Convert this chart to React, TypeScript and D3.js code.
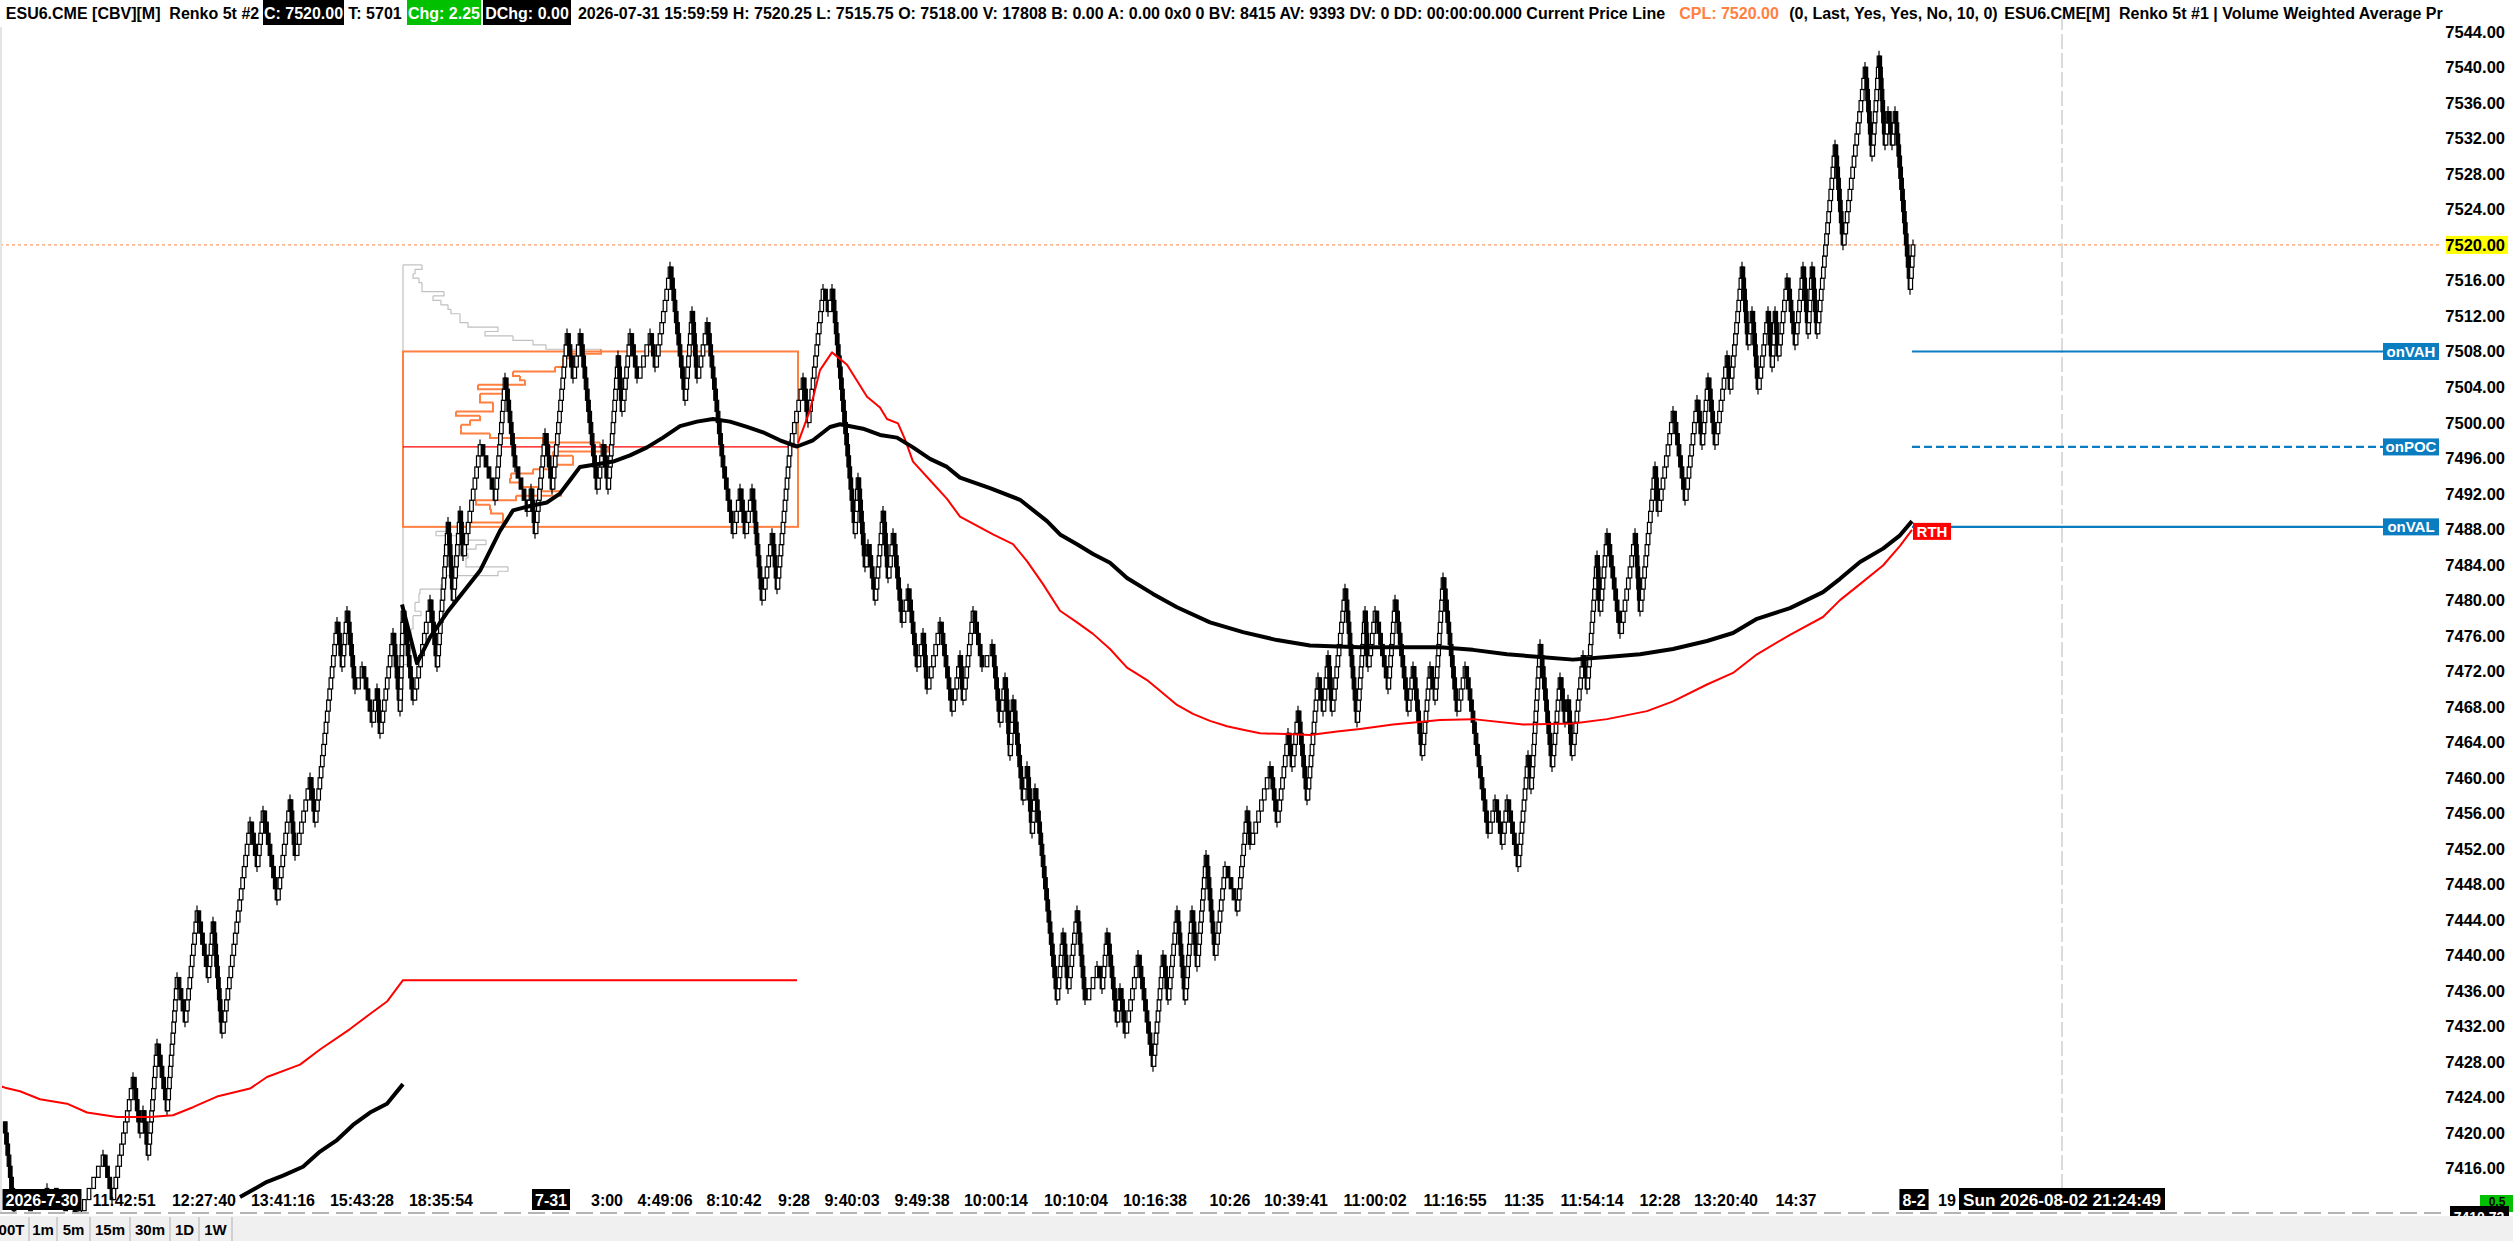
import * as d3 from "d3";
import { useEffect, useRef } from "react";

const W = 2513;
const H = 1241;
const FONT = "'Liberation Sans', Arial, sans-serif";

// price axis
const priceTicks = [
  7416, 7420, 7424, 7428, 7432, 7436, 7440, 7444, 7448, 7452, 7456, 7460, 7464, 7468, 7472,
  7476, 7480, 7484, 7488, 7492, 7496, 7500, 7504, 7508, 7512, 7516, 7520, 7524, 7528, 7532,
  7536, 7540, 7544,
];
const lastPrice = 7520;
const brickSize = 1.25;

// renko swing points: bar position / close price
const pivotBars = [
  1.6, 5.6, 18.8, 30, 41.2, 44.8, 53.2, 56, 57.2, 59.2, 62.8, 66.8, 70.8, 74, 78.8, 83.2, 85.2,
  88.8, 100, 102.8, 105.2, 110.8, 116, 118, 124, 126, 134.8, 136.8, 138.8, 142, 144.8, 148.8,
  150.8, 152, 157.2, 160, 161.2, 165.2, 172, 174.8, 179.2, 181.2, 184, 185.2, 192, 198, 202,
  206, 210.8, 212.4, 214, 218, 220.8, 226.8, 229.2, 232, 238.8, 241.2, 243.2, 247.2, 248.8, 252,
  254.8, 260, 262, 268, 274, 276.8, 278.8, 282.8, 289.2, 293.2, 296, 298, 300.8, 304.8, 308.8,
  310.8, 316, 321.2, 323.2, 329.2, 331.2, 332.8, 342, 343.2, 346, 347.2, 350, 353.2, 355.2,
  357.2, 360.8, 363.2, 366.8, 369.2, 370.8, 376, 380.8, 384, 385.2, 389.2, 392.8, 396.8, 400,
  402, 404, 405.2, 409.2, 410.8, 412.8, 414, 422.8, 425.2, 427.2, 430.8, 434, 438.8, 440.8,
  442.8, 446.8, 448, 450, 455.2, 461.2, 465.2, 467.2, 470.8, 474, 476.8, 478.8, 482.4, 486, 490,
  494.8, 498.8, 500, 508, 510.8, 515.2, 516.8, 519.2, 522.8, 527.2, 529.2, 531.2, 532.8, 538,
  542.8, 546, 547.2, 550, 555.2, 558, 563.2, 565.2, 568.8, 572, 574, 577.2, 582.8, 586, 588,
  595.2, 598, 600.8, 602.8, 607.2, 611.2, 612.4, 616, 620.8, 624, 626, 627.2, 628.8, 633.2,
  634.8, 638.8, 640, 642.8, 648, 654, 656, 662, 663.2, 669.2, 674, 678.8, 680.8, 683.2, 686,
  690.8, 692, 696.8, 699.2, 700.8, 703.2, 707.2, 708.8, 710, 711.2, 714.8, 718, 721.2, 723.2,
  724.8, 726.8, 734, 737.2, 746, 748.8, 751.6, 754, 755.2, 756.8, 758, 764, 765.2,
];
const pivotPrices = [
  7421.25, 7411, 7414, 7410, 7418, 7413, 7426, 7420, 7423, 7417, 7430, 7422.5, 7437.5, 7432.5,
  7445.5, 7437.5, 7444, 7431.5, 7454.5, 7450.5, 7456.5, 7446, 7457.5, 7451, 7459.5, 7454.5,
  7477.5, 7472, 7478.5, 7469.5, 7472.5, 7466, 7470, 7464.5, 7476, 7468, 7479, 7468.5, 7480.5,
  7473, 7488.5, 7480.5, 7489.5, 7485.5, 7497.5, 7491.5, 7504.5, 7494.5, 7489.5, 7492, 7488,
  7499, 7493, 7510.5, 7505, 7510.5, 7492, 7497.5, 7493, 7507.5, 7501, 7509.5, 7504.5, 7509.5,
  7506, 7517.5, 7502, 7512, 7505, 7511.5, 7494.5, 7487, 7492, 7487, 7492, 7479.5, 7487, 7481,
  7497.5, 7505.5, 7500.5, 7515.5, 7512.5, 7514.5, 7487, 7493.5, 7483.5, 7486.5, 7480, 7489.5,
  7483, 7488, 7478, 7481, 7472, 7476, 7470.5, 7478, 7467.5, 7474, 7469, 7479, 7473, 7475,
  7466.5, 7471.5, 7463, 7468.5, 7458, 7461, 7453.5, 7459, 7435.5, 7442.5, 7436, 7445, 7434.5,
  7439, 7436, 7442.5, 7432, 7436, 7431, 7440, 7428, 7440.5, 7434.5, 7445.5, 7435.5, 7445.5,
  7439, 7451.5, 7440.5, 7450, 7444.5, 7456.5, 7452, 7461.5, 7455.5, 7465.5, 7461.5, 7467.5,
  7457.5, 7471.5, 7467, 7474, 7467, 7481, 7466.5, 7478.5, 7472.5, 7478.5, 7469.5, 7479.5, 7468,
  7472, 7463, 7472, 7469, 7482, 7467, 7473, 7469, 7453.5, 7457.5, 7452, 7458, 7449.5, 7462,
  7459, 7475, 7461.5, 7471, 7466.5, 7469, 7463, 7474, 7470.5, 7484.5, 7479, 7487, 7476.5, 7488,
  7479, 7495.5, 7490, 7501, 7491.5, 7503, 7497, 7505, 7497.5, 7507.5, 7504, 7517, 7509, 7513,
  7503.5, 7512, 7506.5, 7512, 7507, 7516, 7508.5, 7517, 7510.5, 7517, 7509.5, 7531, 7520.5,
  7539.5, 7530.5, 7541, 7531.5, 7535.5, 7531, 7534.5, 7515, 7520,
];

// VWAP (black) previous session and current session
const vwapPrevBars = [96, 101.2, 106.8, 113.2, 121.2, 128, 134.8, 141.2, 148, 154.8, 161.2];
const vwapPrevPrices = [
  7412.8, 7413.6, 7414.5, 7415.2, 7416.2, 7417.9, 7419.2, 7420.9, 7422.3, 7423.3, 7425.5,
];
const vwapBars = [
  160.8, 166.8, 172, 178.8, 192, 200, 205.2, 212, 218.8, 224, 228, 232, 238.8, 245.2, 252,
  258.8, 265.2, 272, 278.8, 285.2, 292, 298.8, 305.2, 312, 318.8, 325.2, 332, 336, 345.2, 352,
  358.8, 365.2, 372, 378.8, 384, 396, 408, 418.8, 424, 430.8, 437.2, 444, 450.8, 461.2, 470.8,
  484, 497.2, 510.8, 524, 544, 576, 589.2, 602.8, 616, 629.2, 642.8, 656, 669.2, 682.8, 693.2,
  702.8, 716, 729.2, 736, 744, 753.2, 760, 764.8,
];
const vwapPrices = [
  7479.5, 7472.9, 7475.8, 7478.6, 7483.3, 7487.8, 7490.1, 7490.6, 7491, 7492, 7493.5, 7495,
  7495.3, 7495.6, 7496.3, 7497.2, 7498.3, 7499.6, 7500.1, 7500.4, 7500.1, 7499.5, 7498.9, 7498,
  7497.3, 7498, 7499.5, 7499.8, 7499.3, 7498.6, 7498.3, 7497.2, 7495.9, 7495, 7493.8, 7492.6,
  7491.3, 7488.9, 7487.4, 7486.3, 7485.2, 7484.2, 7482.5, 7480.7, 7479.2, 7477.5, 7476.4,
  7475.5, 7474.9, 7474.7, 7474.7, 7474.4, 7473.9, 7473.6, 7473.3, 7473.6, 7473.9, 7474.5,
  7475.4, 7476.3, 7477.9, 7479.1, 7480.9, 7482.4, 7484.3, 7485.8, 7487.3, 7488.9,
];

// RTH VWAP (red)
const rthPrevBars = [
  0, 2, 8, 16, 26.8, 34.8, 46.8, 60, 69.2, 77.2, 86.8, 100, 106.8, 120, 128, 140, 148, 154.8,
  161.2, 318.8,
];
const rthPrevPrices = [
  7425.3, 7425.1, 7424.7, 7423.8, 7423.3, 7422.3, 7421.8, 7421.8, 7422, 7422.9, 7424.1, 7425,
  7426.3, 7427.7, 7429.4, 7431.7, 7433.4, 7434.8, 7437.2, 7437.2,
];
const rthBars = [
  319.2, 324, 328, 332.8, 338.8, 342.8, 346.8, 352, 354.8, 359.2, 362, 365.2, 372, 378.8, 384,
  397.2, 405.2, 410.8, 417.2, 424, 430.8, 437.2, 444, 450.8, 458.8, 464, 470.8, 477.2, 484,
  490.8, 497.2, 504, 517.2, 524, 534.8, 544, 557.2, 576, 589.2, 609.2, 629.2, 642.8, 658.8,
  669.2, 682.8, 693.2, 702.8, 716, 729.2, 736, 744, 753.2, 760, 764.8,
];
const rthPrices = [
  7497.7, 7501.4, 7505.9, 7507.9, 7506.5, 7504.7, 7502.9, 7501.7, 7500.4, 7499.9, 7498.1,
  7495.6, 7493.5, 7491.4, 7489.4, 7487.4, 7486.3, 7484.4, 7481.8, 7478.8, 7477.5, 7476.2,
  7474.5, 7472.4, 7471, 7469.8, 7468.2, 7467.2, 7466.4, 7465.8, 7465.4, 7465, 7464.9, 7464.8,
  7465.2, 7465.5, 7466, 7466.5, 7466.6, 7466, 7466.1, 7466.6, 7467.5, 7468.6, 7470.5, 7471.8,
  7473.9, 7476.1, 7478.1, 7480, 7481.8, 7483.9, 7486.1, 7487.9,
];

// volume profile (0.5 pt rows from top)
const profileHigh = 7517.5;
const profileStep = 0.5;
const profileVolumes = [
  19, 12, 10, 16, 19, 19, 41, 30, 38, 45, 48, 57, 57, 65, 95, 82, 110, 130, 143, 198, 168, 160,
  160, 152, 110, 117, 122, 75, 100, 77, 77, 90, 90, 53, 77, 67, 58, 58, 87, 140, 197, 205, 150,
  170, 170, 152, 130, 108, 107, 117, 135, 158, 113, 73, 87, 88, 100, 100, 67, 45, 33, 63, 83,
  73, 57, 65, 63, 63, 105, 95, 43, 43, 38, 17, 16, 16, 12, 12, 18, 10, 10, 10, 8, 8, 7, 7, 7,
  5, 5, 5,
];
const profileStartBar = 161.2;
const profileEndBar = 319.2;
const vah = 7508;
const poc = 7497.25;
const val = 7488.25;
const levelStartBar = 764.8;

// x axis labels
const timeLabels = [
  "2026-7-30", "11:42:51", "12:27:40", "13:41:16", "15:43:28", "18:35:54", "7-31", "3:00",
  "4:49:06", "8:10:42", "9:28", "9:40:03", "9:49:38", "10:00:14", "10:10:04", "10:16:38",
  "10:26", "10:39:41", "11:00:02", "11:16:55", "11:35", "11:54:14", "12:28", "13:20:40",
  "14:37", "8-2", "19",
];
const timeBars = [
  16.8, 49.6, 81.6, 113.2, 144.8, 176.4, 220.4, 242.8, 266, 293.6, 317.6, 340.8, 368.8, 398.4,
  430.4, 462, 492, 518.4, 550, 582, 609.6, 636.8, 664, 690.4, 718.4, 765.6, 778.8,
];
const dateLabels = ["2026-7-30", "7-31", "8-2"];
const cursorBar = 824.8;
const cursorLabel = "Sun 2026-08-02 21:24:49";

const headerTexts = [
  "ESU6.CME [CBV][M]  Renko 5t #2",
  "C: 7520.00",
  "T: 5701",
  "Chg: 2.25",
  "DChg: 0.00",
  "2026-07-31 15:59:59 H: 7520.25 L: 7515.75 O: 7518.00 V: 17808 B: 0.00 A: 0.00 0x0 0 BV: 8415 AV: 9393 DV: 0 DD: 00:00:00.000 Current Price Line",
  "CPL: 7520.00",
  "(0, Last, Yes, Yes, No, 10, 0)",
  "ESU6.CME[M]  Renko 5t #1 | Volume Weighted Average Pr",
];
const toolbarButtons = ["00T", "1m", "5m", "15m", "30m", "1D", "1W"];

export default function App() {
  const ref = useRef<SVGSVGElement>(null);

  useEffect(() => {
    const svg = d3.select(ref.current);
    svg.selectAll("*").remove();

    const plotTop = 27;
    const plotBottom = 1212;
    const plotRight = 2440;

    const x = d3.scaleLinear().domain([0, 976]).range([0, plotRight]);
    const y = d3.scaleLinear().domain([7411.1, 7544.2]).range([plotBottom, 30]);
    const vol = d3.scaleLinear().domain([0, 205]).range([0, 205]);

    svg.append("rect").attr("width", W).attr("height", H).attr("fill", "#fff");

    svg
      .append("clipPath")
      .attr("id", "plot")
      .append("rect")
      .attr("x", 2)
      .attr("y", plotTop)
      .attr("width", plotRight - 2)
      .attr("height", plotBottom - plotTop);

    svg.append("rect").attr("x", 0).attr("y", plotTop).attr("width", 2)
      .attr("height", plotBottom - plotTop).attr("fill", "#e4e4e4");

    const g = svg.append("g").attr("clip-path", "url(#plot)");

    // current price line
    g.append("line")
      .attr("x1", 0).attr("x2", plotRight)
      .attr("y1", y(lastPrice)).attr("y2", y(lastPrice))
      .attr("stroke", "#ff8040").attr("stroke-dasharray", "3,3");

    // cursor vertical line
    svg.append("line")
      .attr("x1", x(cursorBar)).attr("x2", x(cursorBar))
      .attr("y1", 15).attr("y2", 1190)
      .attr("stroke", "#c4c4c4").attr("stroke-width", 1.2).attr("stroke-dasharray", "15,4");

    // ---- volume profile
    const pLeft = x(profileStartBar);
    const rows = profileVolumes.map((v, i) => ({ price: profileHigh - i * profileStep, v }));
    const inVA = (p: number) => p <= vah + 0.01 && p >= val + 0.01;
    rows.forEach((r, i) => {
      const yTop = y(r.price + profileStep / 2);
      const yBot = y(r.price - profileStep / 2);
      const next = rows[i + 1];
      const color = inVA(r.price) ? "#ff8040" : "#c0c0c0";
      const sw = inVA(r.price) ? 2 : 1.2;
      g.append("path")
        .attr("d", `M${pLeft + vol(r.v)},${yTop}V${yBot}H${pLeft + (next ? vol(next.v) : 0)}`)
        .attr("fill", "none").attr("stroke", color).attr("stroke-width", sw);
      if (i === 0) {
        g.append("path").attr("d", `M${pLeft},${yTop}H${pLeft + vol(r.v)}`)
          .attr("stroke", color).attr("stroke-width", sw);
      }
    });
    g.append("line")
      .attr("x1", pLeft).attr("x2", pLeft)
      .attr("y1", y(profileHigh + 0.25)).attr("y2", y(rows[rows.length - 1].price - 0.25))
      .attr("stroke", "#c0c0c0").attr("stroke-width", 1.2);
    g.append("rect")
      .attr("x", pLeft).attr("y", y(vah))
      .attr("width", x(profileEndBar) - pLeft).attr("height", y(val) - y(vah))
      .attr("fill", "none").attr("stroke", "#ff8040").attr("stroke-width", 2);
    g.append("line")
      .attr("x1", pLeft).attr("x2", x(profileEndBar))
      .attr("y1", y(poc)).attr("y2", y(poc))
      .attr("stroke", "#ff0000").attr("stroke-width", 1.2);

    // ---- renko bricks
    type Brick = { bar: number; open: number; close: number; up: boolean; end: boolean };
    const bricks: Brick[] = [];
    let cur = pivotPrices[0];
    for (let i = 1; i < pivotBars.length; i++) {
      const target = pivotPrices[i];
      const dir = target >= cur ? 1 : -1;
      const n = Math.max(1, Math.round(Math.abs(target - cur) / brickSize));
      const b0 = pivotBars[i - 1];
      const b1 = pivotBars[i];
      for (let k = 1; k <= n; k++) {
        const open = cur;
        cur += dir * brickSize;
        bricks.push({ bar: b0 + ((b1 - b0) * k) / n, open, close: cur, up: dir > 0, end: k === n });
      }
    }
    const bw = 3.6;
    g.append("g")
      .selectAll("line")
      .data(bricks.filter((d) => d.end))
      .join("line")
      .attr("x1", (d) => x(d.bar)).attr("x2", (d) => x(d.bar))
      .attr("y1", (d) => y(d.close))
      .attr("y2", (d) => y(d.close + (d.up ? 0.6 : -0.6)))
      .attr("stroke", "#000").attr("stroke-width", 1.2);
    g.append("g")
      .selectAll("rect")
      .data(bricks)
      .join("rect")
      .attr("x", (d) => x(d.bar) - bw / 2)
      .attr("y", (d) => y(Math.max(d.open, d.close)))
      .attr("width", bw)
      .attr("height", (d) => Math.abs(y(d.open) - y(d.close)))
      .attr("fill", (d) => (d.up ? "#fff" : "#000"))
      .attr("stroke", "#000")
      .attr("stroke-width", 1.2);

    // ---- VWAP lines
    const line = d3.line<[number, number]>().x((d) => x(d[0])).y((d) => y(d[1]));
    const drawLine = (bars: number[], prices: number[], color: string, w: number) =>
      g.append("path")
        .attr("d", line(bars.map((b, i) => [b, prices[i]] as [number, number])))
        .attr("fill", "none").attr("stroke", color).attr("stroke-width", w)
        .attr("stroke-linejoin", "round");
    drawLine(rthPrevBars, rthPrevPrices, "#ff0000", 2);
    drawLine(rthBars, rthPrices, "#ff0000", 2);
    drawLine(vwapPrevBars, vwapPrevPrices, "#000", 4);
    drawLine(vwapBars, vwapPrices, "#000", 4);

    // ---- prior value area levels
    const levels = [
      { p: vah, name: "onVAH", dash: null },
      { p: poc, name: "onPOC", dash: "8,4" },
      { p: val, name: "onVAL", dash: null },
    ];
    levels.forEach((l) => {
      svg.append("line")
        .attr("x1", x(levelStartBar)).attr("x2", 2384)
        .attr("y1", y(l.p)).attr("y2", y(l.p))
        .attr("stroke", "#0a7cc0").attr("stroke-width", 2.2)
        .attr("stroke-dasharray", l.dash);
      svg.append("rect")
        .attr("x", 2383).attr("y", y(l.p) - 8.5).attr("width", 56).attr("height", 17)
        .attr("fill", "#0a7cc0");
      svg.append("text")
        .attr("x", 2411).attr("y", y(l.p) + 5.5).attr("text-anchor", "middle")
        .attr("font-family", FONT).attr("font-weight", "bold").attr("font-size", 15)
        .attr("fill", "#fff").text(l.name);
    });

    // RTH tag
    svg.append("rect")
      .attr("x", x(levelStartBar) + 1).attr("y", y(val) - 4).attr("width", 38).attr("height", 17)
      .attr("fill", "#ff0000");
    svg.append("text")
      .attr("x", x(levelStartBar) + 20).attr("y", y(val) + 10).attr("text-anchor", "middle")
      .attr("font-family", FONT).attr("font-weight", "bold").attr("font-size", 15)
      .attr("fill", "#fff").text("RTH");

    // ---- price axis
    svg.append("rect")
      .attr("x", 2446).attr("y", y(lastPrice) - 9).attr("width", 62).attr("height", 18)
      .attr("fill", "#ffff00");
    svg.append("g")
      .selectAll("text")
      .data(priceTicks)
      .join("text")
      .attr("x", 2505)
      .attr("y", (d) => y(d) + 6)
      .attr("text-anchor", "end")
      .attr("font-family", FONT).attr("font-weight", "bold").attr("font-size", 16.5)
      .attr("fill", "#000")
      .text((d) => d3.format(".2f")(d));

    // ---- time axis
    const axisY = 1206;
    timeLabels.forEach((t, i) => {
      const boxed = dateLabels.includes(t);
      const txt = svg.append("text")
        .attr("x", x(timeBars[i])).attr("y", axisY).attr("text-anchor", "middle")
        .attr("font-family", FONT).attr("font-weight", "bold").attr("font-size", 16)
        .attr("fill", boxed ? "#fff" : "#000").text(t);
      if (boxed) {
        const wd = (txt.node() as SVGTextElement).getComputedTextLength();
        svg.insert("rect", () => txt.node())
          .attr("x", x(timeBars[i]) - wd / 2 - 3).attr("y", axisY - 17)
          .attr("width", wd + 6).attr("height", 21).attr("fill", "#000");
      }
    });
    svg.append("rect")
      .attr("x", x(cursorBar) - 103).attr("y", axisY - 18).attr("width", 206).attr("height", 22)
      .attr("fill", "#000");
    svg.append("text")
      .attr("x", x(cursorBar)).attr("y", axisY).attr("text-anchor", "middle")
      .attr("font-family", FONT).attr("font-weight", "bold").attr("font-size", 16)
      .attr("textLength", 198).attr("lengthAdjust", "spacingAndGlyphs")
      .attr("fill", "#fff").text(cursorLabel);

    svg.append("line")
      .attr("x1", 0).attr("x2", 2446).attr("y1", 1213).attr("y2", 1213)
      .attr("stroke", "#b4b4b4").attr("stroke-width", 2).attr("stroke-dasharray", "17,7");

    // bottom right price boxes
    svg.append("rect").attr("x", 2480).attr("y", 1195).attr("width", 33).attr("height", 17)
      .attr("fill", "#00c000");
    svg.append("text").attr("x", 2497).attr("y", 1206).attr("text-anchor", "middle")
      .attr("font-family", FONT).attr("font-weight", "bold").attr("font-size", 12)
      .attr("fill", "#000").text("0.5");
    svg.append("rect").attr("x", 2450).attr("y", 1206).attr("width", 59).attr("height", 18)
      .attr("fill", "#000");
    svg.append("text").attr("x", 2479).attr("y", 1222).attr("text-anchor", "middle")
      .attr("font-family", FONT).attr("font-weight", "bold").attr("font-size", 14)
      .attr("fill", "#fff").text(d3.format(".2f")(7410.72));

    // ---- toolbar
    svg.append("rect").attr("x", 0).attr("y", 1216).attr("width", W).attr("height", H - 1216)
      .attr("fill", "#f0f0f0");
    const btnEdges = [-6, 29, 57, 90, 130, 170, 199, 232];
    toolbarButtons.forEach((b, i) => {
      svg.append("text")
        .attr("x", (btnEdges[i] + btnEdges[i + 1]) / 2).attr("y", 1235)
        .attr("text-anchor", "middle")
        .attr("font-family", FONT).attr("font-weight", "bold").attr("font-size", 15)
        .attr("fill", "#000").text(b);
      svg.append("line")
        .attr("x1", btnEdges[i + 1]).attr("x2", btnEdges[i + 1])
        .attr("y1", 1217).attr("y2", 1241)
        .attr("stroke", "#b0b0b0");
    });

    // ---- header
    const hdr = [
      { x: 6, w: 253, bg: null, fg: "#000" },
      { x: 263, w: 81, bg: "#000", fg: "#fff" },
      { x: 348, w: 54, bg: null, fg: "#000" },
      { x: 407, w: 74, bg: "#00c000", fg: "#fff" },
      { x: 483, w: 88, bg: "#000", fg: "#fff" },
      { x: 573, w: 1097, bg: null, fg: "#000" },
      { x: 1679, w: 100, bg: null, fg: "#ff8040" },
      { x: 1790, w: 207, bg: null, fg: "#000" },
      { x: 2005, w: 437, bg: null, fg: "#000" },
    ];
    headerTexts.forEach((t, i) => {
      const h = hdr[i];
      if (h.bg) {
        svg.append("rect").attr("x", h.x).attr("y", 0).attr("width", h.w).attr("height", 25)
          .attr("fill", h.bg);
      }
      svg.append("text")
        .attr("x", h.x + h.w / 2).attr("y", 19).attr("text-anchor", "middle")
        .attr("font-family", FONT).attr("font-weight", "bold").attr("font-size", 16)
        .style("white-space", "pre")
        .attr("fill", h.fg).text(t);
    });
  }, []);

  return (
    <svg
      ref={ref}
      width={W}
      height={H}
      style={{ position: "absolute", left: 0, top: 0, display: "block" }}
    />
  );
}
